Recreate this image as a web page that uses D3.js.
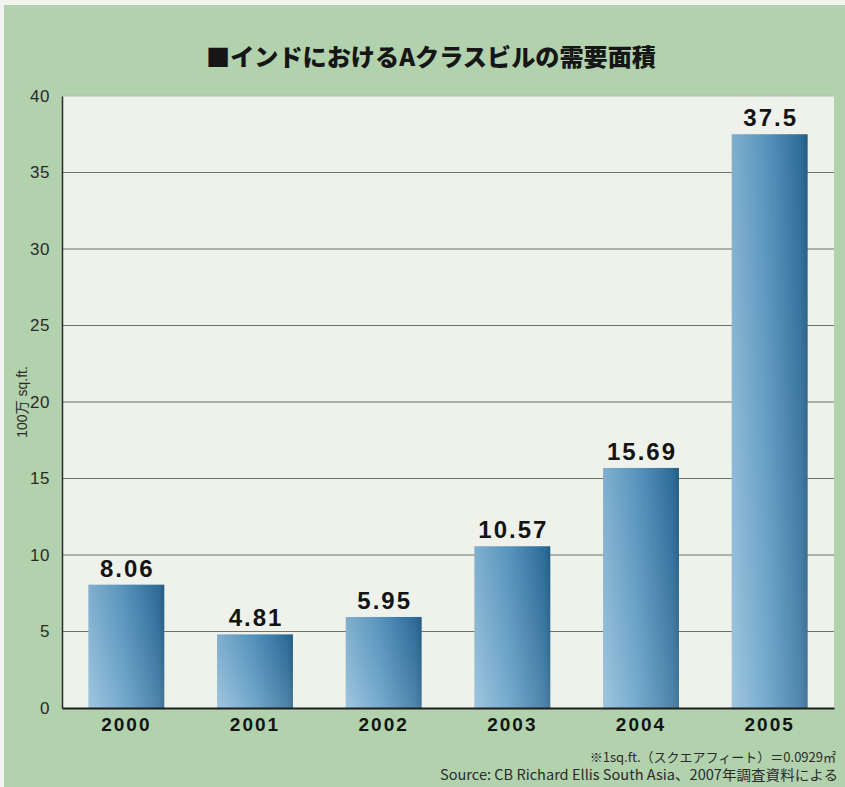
<!DOCTYPE html>
<html lang="ja">
<head>
<meta charset="UTF-8">
<script src="https://d3js.org/d3.v7.min.js"></script>
<style>
    body { margin: 0; background: #b3d3b0; }
    svg { display: block; }
</style>
</head>
<body>
<div id="chart"></div>
<script>
    // data
    var years = ["2000", "2001", "2002", "2003", "2004", "2005"];
    var values = [8.06, 4.81, 5.95, 10.57, 15.69, 37.5];
    var valueLabels = ["8.06", "4.81", "5.95", "10.57", "15.69", "37.5"];
    var yTicks = [0, 5, 10, 15, 20, 25, 30, 35, 40];

    var W = 845, H = 787;
    var margin = { top: 96, right: 11, bottom: 79, left: 62 },
        width = W - margin.left - margin.right,
        height = H - margin.top - margin.bottom;

    var svg = d3.select("#chart").append("svg")
        .attr("width", W)
        .attr("height", H);

    // page background with light edge like the scan
    svg.append("rect").attr("width", W).attr("height", H).attr("fill", "#f1f4ee");
    svg.append("rect")
        .attr("x", 4).attr("y", 5)
        .attr("width", W - 4).attr("height", H - 5)
        .attr("fill", "#b2d2ae");

    var defs = svg.append("defs");
    var grad = defs.append("linearGradient").attr("id", "barGrad")
        .attr("x1", "0").attr("x2", "1").attr("y1", "0").attr("y2", "0");
    grad.append("stop").attr("offset", "0%").attr("stop-color", "#8ebcd9");
    grad.append("stop").attr("offset", "45%").attr("stop-color", "#5f9dc6");
    grad.append("stop").attr("offset", "92%").attr("stop-color", "#2f6f9c");
    grad.append("stop").attr("offset", "100%").attr("stop-color", "#245d85");

    var shade = defs.append("linearGradient").attr("id", "barShade")
        .attr("x1", "0").attr("x2", "0").attr("y1", "0").attr("y2", "1");
    shade.append("stop").attr("offset", "0%").attr("stop-color", "#1f4f75").attr("stop-opacity", 0.12);
    shade.append("stop").attr("offset", "100%").attr("stop-color", "#ffffff").attr("stop-opacity", 0.15);

    var g = svg.append("g")
        .attr("transform", "translate(" + margin.left + "," + margin.top + ")");

    var x = d3.scaleBand()
        .domain(years)
        .range([0, width])
        .paddingInner(0.41)
        .paddingOuter(0.205);

    var y = d3.scaleLinear()
        .domain([0, 40])
        .range([height, 0]);

    // plot area
    g.append("rect")
        .attr("width", width)
        .attr("height", height)
        .attr("fill", "#eff2eb");
    g.append("line")
        .attr("x1", 0).attr("x2", width)
        .attr("y1", 0).attr("y2", 0)
        .attr("stroke", "#b9bcb6");

    // gridlines
    g.selectAll(".grid")
        .data(yTicks.filter(function (d) { return d > 0 && d < 40; }))
        .enter()
        .append("line")
        .attr("x1", 0).attr("x2", width)
        .attr("y1", function (d) { return y(d); })
        .attr("y2", function (d) { return y(d); })
        .attr("stroke", "#6f716c")
        .attr("stroke-width", 1.2);

    // bars
    g.selectAll(".bar")
        .data(values)
        .enter()
        .append("rect")
        .attr("x", function (d, i) { return x(years[i]); })
        .attr("y", function (d) { return y(d); })
        .attr("width", x.bandwidth())
        .attr("height", function (d) { return height - y(d); })
        .attr("fill", "url(#barGrad)");
    g.selectAll(".barshade")
        .data(values)
        .enter()
        .append("rect")
        .attr("x", function (d, i) { return x(years[i]); })
        .attr("y", function (d) { return y(d); })
        .attr("width", x.bandwidth())
        .attr("height", function (d) { return height - y(d); })
        .attr("fill", "url(#barShade)");

    // value labels (shifted 1px for the trailing letter-spacing)
    g.selectAll(".val")
        .data(values)
        .enter()
        .append("text")
        .attr("x", function (d, i) { return x(years[i]) + x.bandwidth() / 2 + 1; })
        .attr("y", function (d) { return y(d) - 8; })
        .attr("text-anchor", "middle")
        .attr("font-family", "Liberation Sans, Arial, sans-serif")
        .attr("font-weight", "bold")
        .attr("font-size", "24px")
        .attr("letter-spacing", "2px")
        .attr("fill", "#141414")
        .text(function (d, i) { return valueLabels[i]; });

    // axes
    var yAxis = g.append("g")
        .call(d3.axisLeft(y).tickValues(yTicks).tickSize(0).tickPadding(12));
    yAxis.select(".domain").attr("stroke", "#2a2a2a").attr("stroke-width", 1.5);
    yAxis.selectAll("text")
        .attr("font-family", "Liberation Sans, Arial, sans-serif")
        .attr("font-size", "17px")
        .attr("letter-spacing", "0.5px")
        .attr("fill", "#2a2a2a");

    var xAxis = g.append("g")
        .attr("transform", "translate(0," + height + ")")
        .call(d3.axisBottom(x).tickSize(0).tickPadding(10));
    xAxis.select(".domain").attr("stroke", "#1e1e1e").attr("stroke-width", 2);
    xAxis.selectAll("text")
        .attr("font-family", "Liberation Sans, Arial, sans-serif")
        .attr("font-weight", "bold")
        .attr("font-size", "19px")
        .attr("letter-spacing", "2px")
        .attr("fill", "#141414");

    // y axis title
    svg.append("text")
        .attr("transform", "translate(27," + (margin.top + height / 2) + ") rotate(-90)")
        .attr("text-anchor", "middle")
        .attr("font-family", "Liberation Sans, Arial, Noto Sans CJK JP, sans-serif")
        .attr("font-size", "14px")
        .attr("fill", "#2a2a2a")
        .text("100万 sq.ft.");

    // title
    svg.append("text")
        .attr("x", 431)
        .attr("y", 66)
        .attr("text-anchor", "middle")
        .attr("font-family", "Noto Sans CJK JP, sans-serif")
        .attr("font-weight", "900")
        .attr("font-size", "24px")
        .attr("textLength", 450)
        .attr("lengthAdjust", "spacingAndGlyphs")
        .attr("fill", "#161616")
        .text("■インドにおけるAクラスビルの需要面積");

    // footnotes
    svg.append("text")
        .attr("x", 836)
        .attr("y", 762)
        .attr("text-anchor", "end")
        .attr("font-family", "Noto Sans CJK JP, sans-serif")
        .attr("font-size", "13px")
        .attr("fill", "#2a2a2a")
        .text("※1sq.ft.（スクエアフィート）＝0.0929㎡");
    svg.append("text")
        .attr("x", 838)
        .attr("y", 780)
        .attr("text-anchor", "end")
        .attr("font-family", "Noto Sans CJK JP, sans-serif")
        .attr("font-size", "14px")
        .attr("textLength", 398)
        .attr("lengthAdjust", "spacingAndGlyphs")
        .attr("fill", "#2a2a2a")
        .text("Source: CB Richard Ellis South Asia、2007年調査資料による");
</script>
</body>
</html>
